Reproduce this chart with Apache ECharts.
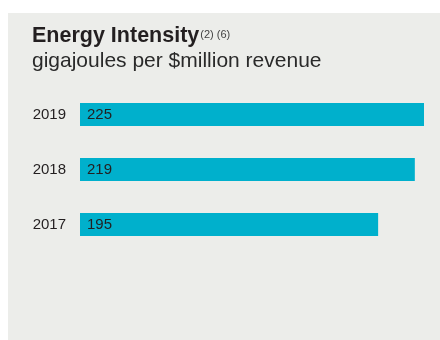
<!DOCTYPE html>
<html>
<head>
<meta charset="utf-8">
<script src="https://cdn.jsdelivr.net/npm/echarts@6/dist/echarts.min.js"></script>
<style>
html,body{margin:0;padding:0;background:#ffffff;}
#chart{width:440px;height:340px;}
</style>
</head>
<body>
<div id="chart"></div>
<script>
var years = ['2017', '2018', '2019'];
var intensity = [195, 219, 225];
var titleText = 'Energy Intensity';
var titleNotes = '(2) (6)';
var subtitleText = 'gigajoules per $million revenue';

var chart = echarts.init(document.getElementById('chart'), null, {renderer: 'canvas'});
var font = 'Liberation Sans, Arial, Helvetica, sans-serif';
chart.setOption({
  animation: false,
  backgroundColor: '#ffffff',
  textStyle: {fontFamily: font},
  graphic: [
    {type: 'rect', z: -10, shape: {x: 8, y: 13, width: 432, height: 327}, style: {fill: '#ecedea'}},
    {type: 'text', left: 32, top: 25.5, style: {
      text: '{t|' + titleText + '}{s|' + titleNotes + '}',
      rich: {
        t: {fontSize: 21.5, fontWeight: 'bold', fill: '#231f20', fontFamily: font},
        s: {fontSize: 11, fill: '#444444', fontFamily: font, verticalAlign: 'top', padding: [4, 0, 0, 1]}
      }
    }},
    {type: 'text', left: 32, top: 51, style: {
      text: subtitleText, fontSize: 21, fill: '#2a2a2a', fontFamily: font
    }}
  ],
  grid: {left: 80, right: 16, top: 87, bottom: 88, containLabel: false},
  xAxis: {type: 'value', min: 0, max: 225, show: false},
  yAxis: {
    type: 'category', data: years,
    axisLine: {show: false}, axisTick: {show: false},
    axisLabel: {fontSize: 15, color: '#231f20', margin: 14, fontFamily: font}
  },
  series: [{
    type: 'bar', data: intensity, barWidth: 23,
    itemStyle: {color: '#00b0cc'},
    label: {show: true, position: 'insideLeft', distance: 7, fontSize: 15, color: '#231f20', fontFamily: font}
  }]
});
</script>
</body>
</html>
